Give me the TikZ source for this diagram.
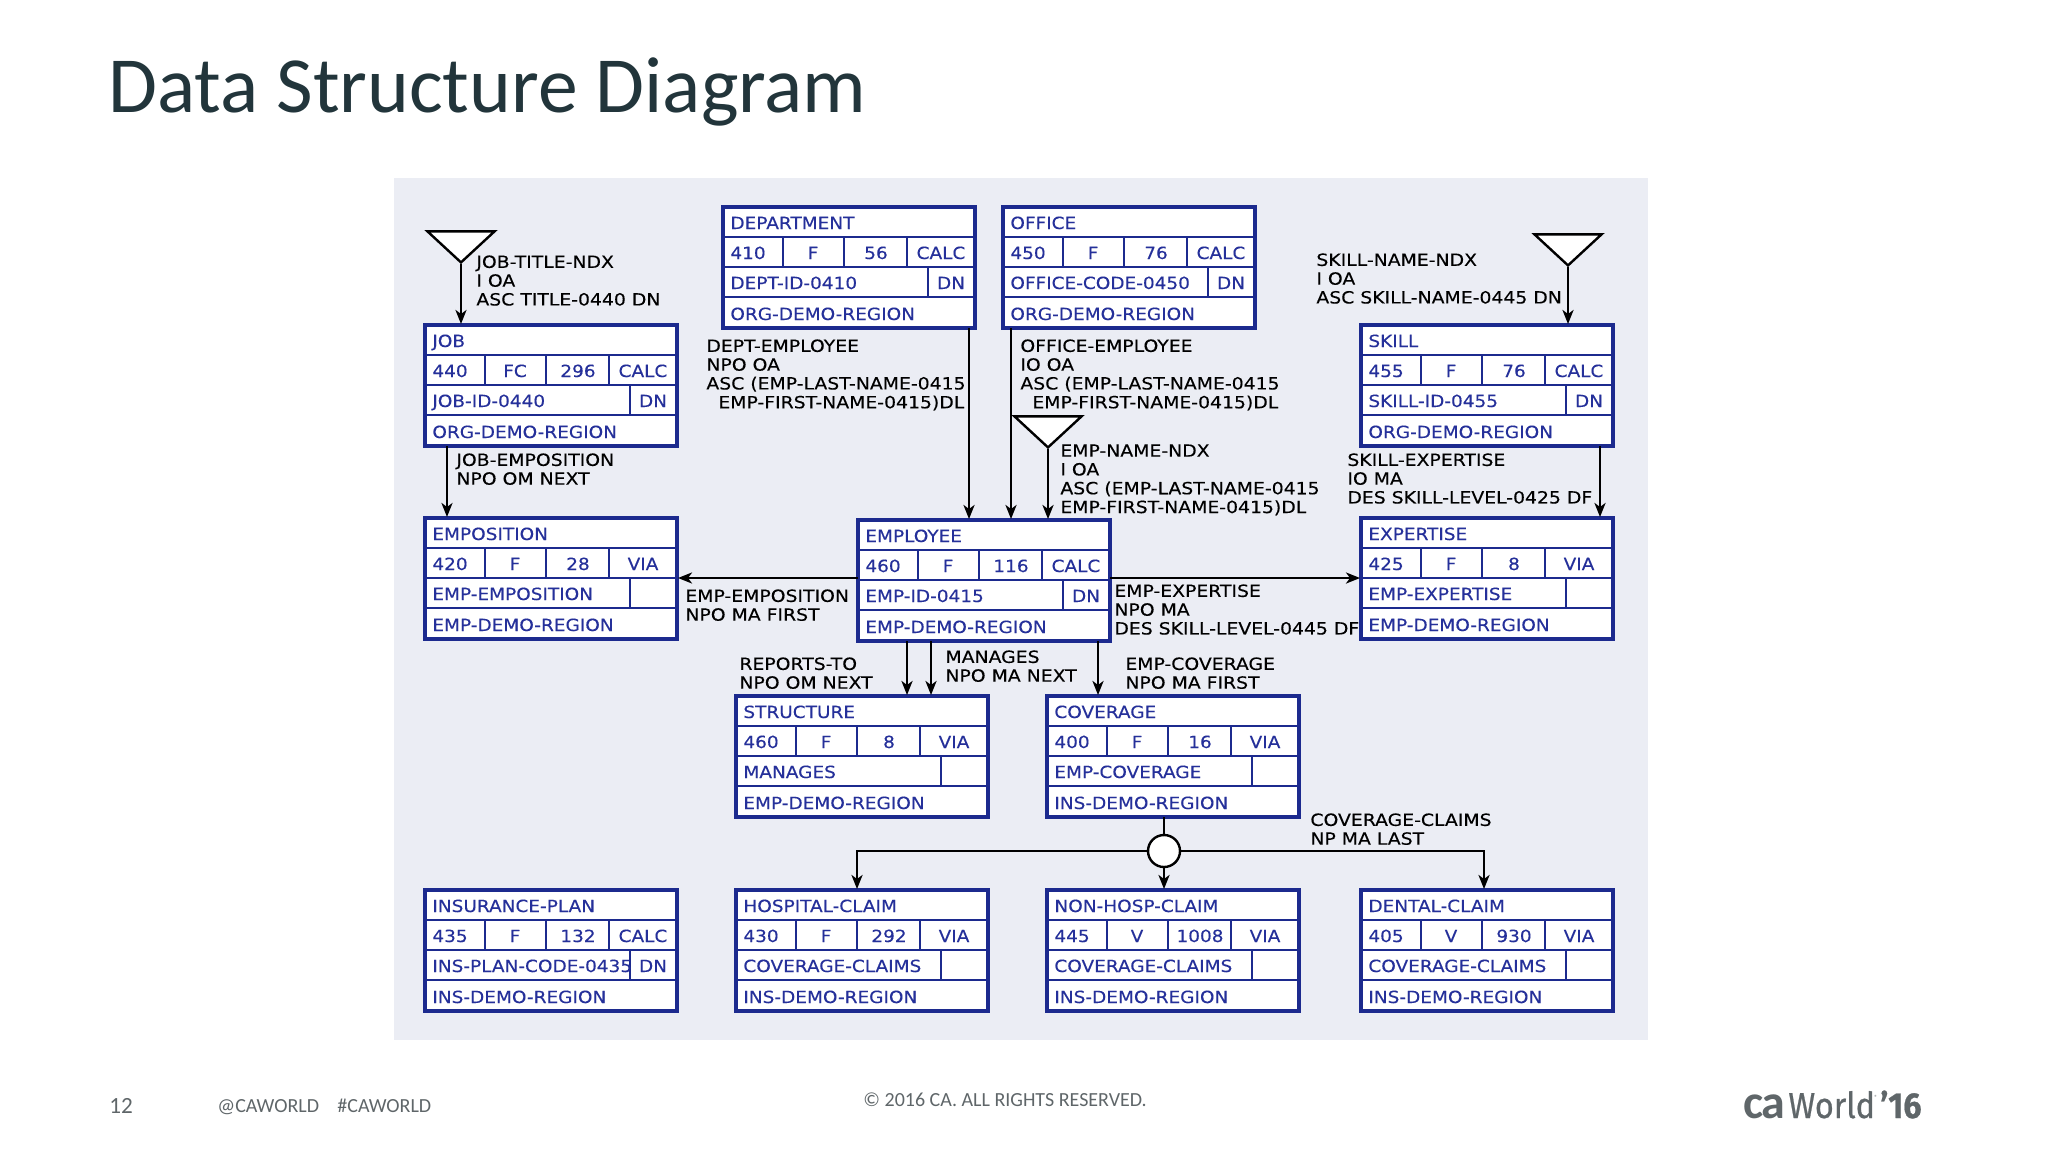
\documentclass[tikz,border=0pt]{standalone}
\usepackage{xcolor}
\usepackage{fontspec}
\usetikzlibrary{shapes.geometric,arrows.meta}
\setmainfont[FakeStretch=1.12,FakeBold=0.25]{DejaVu Sans}
\newfontfamily\recfont[FakeStretch=1.1,FakeBold=0.25]{DejaVu Sans}
\newfontfamily\slidefont{Carlito}
\newfontfamily\logofont[FakeStretch=0.9,FakeBold=0.6]{Fira Sans}

\definecolor{panelgray}{HTML}{EBEDF4}
\definecolor{recblue}{HTML}{1C2A8E}
\definecolor{rectext}{HTML}{25309A}
\definecolor{titleink}{HTML}{22353B}
\definecolor{footink}{HTML}{5F6669}

\tikzset{
  recframe/.style={rectangle,draw=recblue,fill=white,line width=2pt,inner sep=0pt,outer sep=0pt,anchor=north west,minimum width=126pt,minimum height=60.5pt},
  recrule/.style={draw=recblue,line width=1.2pt},
  rectxt/.style={inner sep=0pt,text=rectext,font=\recfont\fontsize{8.4}{10}\selectfont,anchor=base west},
  reccell/.style={rectxt,anchor=base},
  linklabel/.style={inner sep=0pt,anchor=north west,align=left,font=\fontsize{8.4}{9.4}\selectfont},
  link/.style={draw=black,line width=1.3pt,-{Stealth[length=7pt,width=5.5pt,inset=2pt]},shorten >=0.5pt},
  ndx/.style={isosceles triangle,isosceles triangle apex angle=97,isosceles triangle stretches,shape border rotate=270,draw=black,fill=white,line width=1.2pt,inner sep=0pt,minimum width=33.5pt,minimum height=15.5pt,anchor=apex},
  footnote/.style={inner sep=0pt,anchor=base west,text=footink}
}

% frame, title and number row of one record
\newcommand{\recbox}[8]{
\begin{scope}[shift={(#2,#3)}]
\node (#1)[recframe] at (2,2) {};
\draw[recrule] (2,32) -- (254,32);
\draw[recrule] (2,62) -- (254,62);
\draw[recrule] (2,92) -- (254,92);
\draw[recrule] (62,32) -- (62,62);
\draw[recrule] (123,32) -- (123,62);
\draw[recrule] (186,32) -- (186,62);
\draw[recrule] (207,62) -- (207,92);
\node (#1 title)[rectxt] at (9,24) {#4};
\node (#1 id)[rectxt] at (9,54) {#5};
\node (#1 mode)[reccell] at (92,54) {#6};
\node (#1 len)[reccell] at (155,54) {#7};
\node (#1 loc)[reccell] at (220,54) {#8};
\end{scope}
}
% key row and area row of the same record
\newcommand{\recfoot}[4]{
\begin{scope}[shift={(#1.north west)},shift={(-2,-2)}]
\node (#1 key)[rectxt] at (9,84) {#2};
\node (#1 dup)[reccell] at (230,84) {#3};
\node (#1 area)[rectxt] at (9,115) {#4};
\end{scope}
}

\begin{document}
\begin{tikzpicture}[x=0.5pt,y=-0.5pt]
\useasboundingbox (0,0) rectangle (2048,1152);

\node (title)[inner sep=0pt,anchor=base west,text=titleink,font=\slidefont\fontsize{39.8}{42}\selectfont] at (108,112) {Data Structure Diagram};
\fill[panelgray] (394,178) rectangle (1648,1040);

\recbox{job}{423}{323}{JOB}{440}{FC}{296}{CALC}
\recfoot{job}{JOB-ID-0440}{DN}{ORG-DEMO-REGION}
\recbox{emposition}{423}{516}{EMPOSITION}{420}{F}{28}{VIA}
\recfoot{emposition}{EMP-EMPOSITION}{}{EMP-DEMO-REGION}
\recbox{department}{721}{205}{DEPARTMENT}{410}{F}{56}{CALC}
\recfoot{department}{DEPT-ID-0410}{DN}{ORG-DEMO-REGION}
\recbox{office}{1001}{205}{OFFICE}{450}{F}{76}{CALC}
\recfoot{office}{OFFICE-CODE-0450}{DN}{ORG-DEMO-REGION}
\recbox{skill}{1359}{323}{SKILL}{455}{F}{76}{CALC}
\recfoot{skill}{SKILL-ID-0455}{DN}{ORG-DEMO-REGION}
\recbox{expertise}{1359}{516}{EXPERTISE}{425}{F}{8}{VIA}
\recfoot{expertise}{EMP-EXPERTISE}{}{EMP-DEMO-REGION}
\recbox{employee}{856}{518}{EMPLOYEE}{460}{F}{116}{CALC}
\recfoot{employee}{EMP-ID-0415}{DN}{EMP-DEMO-REGION}
\recbox{structure}{734}{694}{STRUCTURE}{460}{F}{8}{VIA}
\recfoot{structure}{MANAGES}{}{EMP-DEMO-REGION}
\recbox{coverage}{1045}{694}{COVERAGE}{400}{F}{16}{VIA}
\recfoot{coverage}{EMP-COVERAGE}{}{INS-DEMO-REGION}
\recbox{insplan}{423}{888}{INSURANCE-PLAN}{435}{F}{132}{CALC}
\recfoot{insplan}{INS-PLAN-CODE-0435}{DN}{INS-DEMO-REGION}
\recbox{hospital}{734}{888}{HOSPITAL-CLAIM}{430}{F}{292}{VIA}
\recfoot{hospital}{COVERAGE-CLAIMS}{}{INS-DEMO-REGION}
\recbox{nonhosp}{1045}{888}{NON-HOSP-CLAIM}{445}{V}{1008}{VIA}
\recfoot{nonhosp}{COVERAGE-CLAIMS}{}{INS-DEMO-REGION}
\recbox{dental}{1359}{888}{DENTAL-CLAIM}{405}{V}{930}{VIA}
\recfoot{dental}{COVERAGE-CLAIMS}{}{INS-DEMO-REGION}

\node (jobndx)[ndx] at (461,264) {};
\node (skillndx)[ndx] at (1568,267) {};
\node (empndx)[ndx] at (1048,449) {};
\node (claimset)[circle,draw=black,fill=white,line width=1.2pt,minimum size=16pt,inner sep=0pt] at (1164,851) {};

\coordinate (jobdrop) at (447,0);
\coordinate (deptdrop) at (969,0);
\coordinate (officedrop) at (1011,0);
\coordinate (skilldrop) at (1600,0);
\coordinate (reportsdrop) at (907,0);
\coordinate (managesdrop) at (931,0);
\coordinate (coverdrop) at (1098,0);
\coordinate (hospdrop) at (857,0);
\coordinate (dentaldrop) at (1484,0);
\coordinate (sideline) at (0,578);

\draw[link] (jobndx.apex) -- (job.north -| jobndx.apex);
\draw[link] (skillndx.apex) -- (skill.north -| skillndx.apex);
\draw[link] (empndx.apex) -- (employee.north -| empndx.apex);
\draw[link] (job.south -| jobdrop) -- (emposition.north -| jobdrop);
\draw[link] (department.south -| deptdrop) -- (employee.north -| deptdrop);
\draw[link] (office.south -| officedrop) -- (employee.north -| officedrop);
\draw[link] (skill.south -| skilldrop) -- (expertise.north -| skilldrop);
\draw[link] (employee.west |- sideline) -- (emposition.east |- sideline);
\draw[link] (employee.east |- sideline) -- (expertise.west |- sideline);
\draw[link] (employee.south -| reportsdrop) -- (structure.north -| reportsdrop);
\draw[link] (employee.south -| managesdrop) -- (structure.north -| managesdrop);
\draw[link] (employee.south -| coverdrop) -- (coverage.north -| coverdrop);
\draw[line width=1.3pt] (coverage.south -| claimset) -- (claimset);
\draw[link] (claimset) -- (nonhosp.north -| claimset);
\draw[link] (claimset.west) -| (hospital.north -| hospdrop);
\draw[link] (claimset.east) -| (dental.north -| dentaldrop);

\node (jobndxtxt)[linklabel] at (476,255) {JOB-TITLE-NDX\\I OA\\ASC TITLE-0440 DN};
\node (deptemp)[linklabel] at (706,339) {DEPT-EMPLOYEE\\NPO OA\\ASC (EMP-LAST-NAME-0415\\\hspace*{6pt}EMP-FIRST-NAME-0415)DL};
\node (jobemp)[linklabel] at (456,453) {JOB-EMPOSITION\\NPO OM NEXT};
\node (empemp)[linklabel] at (685,589) {EMP-EMPOSITION\\NPO MA FIRST};
\node (officeemp)[linklabel] at (1020,339) {OFFICE-EMPLOYEE\\IO OA\\ASC (EMP-LAST-NAME-0415\\\hspace*{6pt}EMP-FIRST-NAME-0415)DL};
\node (empndxtxt)[linklabel] at (1060,444) {EMP-NAME-NDX\\I OA\\ASC (EMP-LAST-NAME-0415\\EMP-FIRST-NAME-0415)DL};
\node (skillndxtxt)[linklabel] at (1316,253) {SKILL-NAME-NDX\\I OA\\ASC SKILL-NAME-0445 DN};
\node (skillexp)[linklabel] at (1347,453) {SKILL-EXPERTISE\\IO MA\\DES SKILL-LEVEL-0425 DF};
\node (empexp)[linklabel] at (1114,584) {EMP-EXPERTISE\\NPO MA\\DES SKILL-LEVEL-0445 DF};
\node (reports)[linklabel] at (739,657) {REPORTS-TO\\NPO OM NEXT};
\node (manages)[linklabel] at (945,650) {MANAGES\\NPO MA NEXT};
\node (empcover)[linklabel] at (1125,657) {EMP-COVERAGE\\NPO MA FIRST};
\node (coverclaims)[linklabel] at (1310,813) {COVERAGE-CLAIMS\\NP MA LAST};

\node (pagenum)[footnote,font=\slidefont\fontsize{11.6}{13}\selectfont] at (109,1113) {12};
\node (handle)[footnote,font=\slidefont\fontsize{10}{11}\selectfont] at (217,1112) {@CAWORLD};
\node (hashtag)[footnote,font=\slidefont\fontsize{10}{11}\selectfont] at (337,1112) {\#CAWORLD};
\node (rights)[footnote,font=\slidefont\fontsize{10}{11}\selectfont] at (863,1106) {© 2016 CA. ALL RIGHTS RESERVED.};
\node (logoca)[footnote,font=\slidefont\bfseries\fontsize{24}{26}\selectfont] at (1743,1118) {c\kern-1pt a};
\node (logoworld)[footnote,font=\logofont\fontsize{18}{20}\selectfont] at (1788,1118) {World};
\node (logomark)[footnote,font=\slidefont\fontsize{3}{4}\selectfont] at (1874,1099) {®};
\node (logoyear)[footnote,font=\logofont\bfseries\fontsize{18}{20}\selectfont] at (1880,1118) {’16};
\end{tikzpicture}
\end{document}
